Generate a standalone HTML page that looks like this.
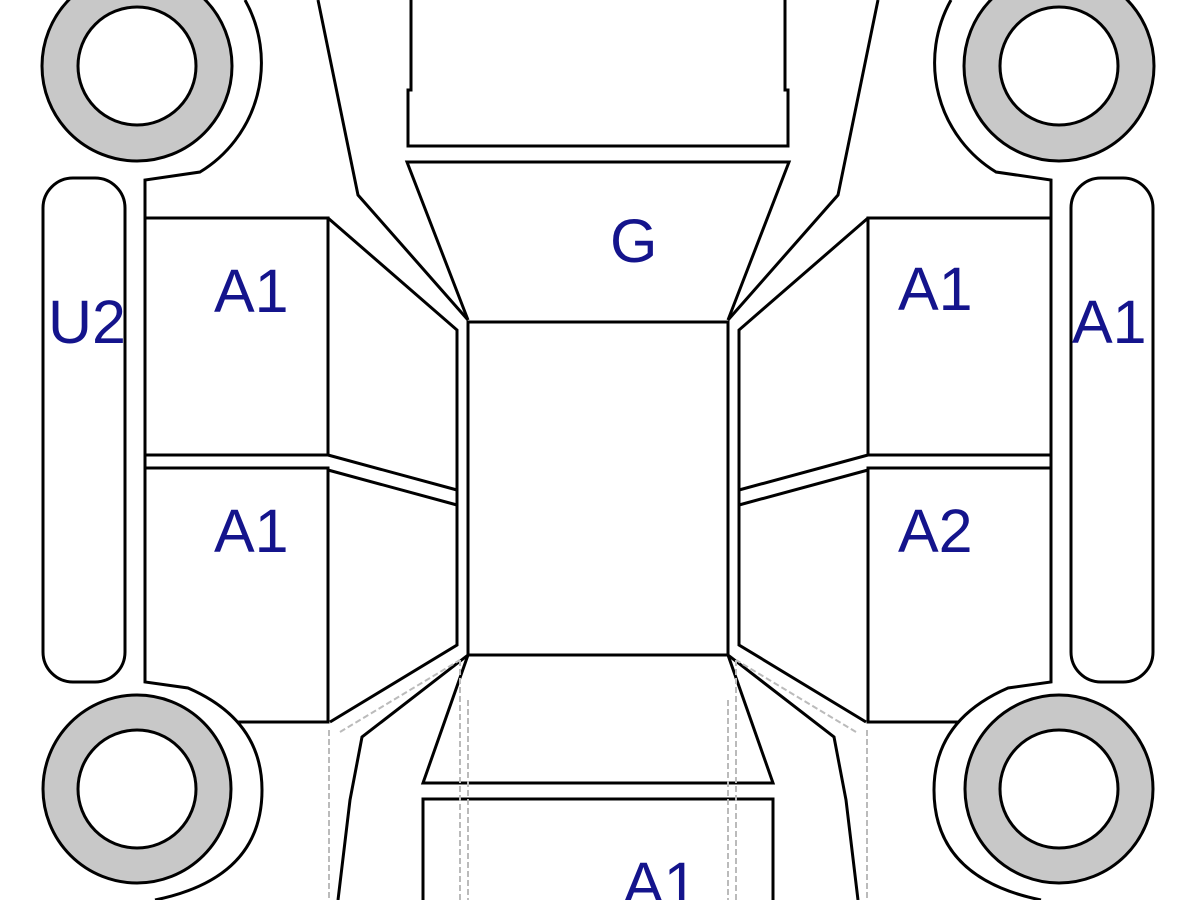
<!DOCTYPE html>
<html><head><meta charset="utf-8"><style>
html,body{margin:0;padding:0;background:#fff;}
svg{display:block}
text{font-family:"Liberation Sans",Arial,sans-serif;fill:#14148c;font-size:61px}
</style></head><body>
<svg width="1200" height="900" viewBox="0 0 1200 900" xmlns="http://www.w3.org/2000/svg">
<defs>
<g id="half" fill="none" stroke="#000" stroke-width="3">
  <circle cx="137" cy="66" r="95" fill="#c8c8c8"/>
  <circle cx="137" cy="66" r="59" fill="#fff"/>
  <circle cx="137" cy="789" r="94" fill="#c8c8c8"/>
  <circle cx="137" cy="789" r="59" fill="#fff"/>
  <path d="M245,0 A128,128 0 0 1 200,172 L145,180 L145,682 L188,688 Q262,720 262,790 Q262,878 155,900"/>
  <rect x="43" y="178" width="82" height="504" rx="30"/>
  <path d="M145,218 L328,218 L328,455 L145,455"/>
  <path d="M145,468 L328,468 L328,722 L238,722"/>
  <path d="M328,455 L457,490 M328,470 L457,505"/>
  <path d="M328,218 L457,330 L457,645 L330,722"/>
  <path d="M318,0 L358,195 L468,320"/>
  <path d="M468,655 L362,737 L350,800 L338,900"/>
  <path d="M411,0 L411,90 L408,90 L408,146 L598,146"/>
  <path d="M598,162 L407,162 L468,320"/>
  <path d="M468,655 L423,783 L598,783"/>
  <path d="M598,799 L423,799 L423,900"/>
  <path d="M329,730 L329,900 M460,660 L460,900 M468,700 L468,900 M340,732 L460,660" stroke="#bbb" stroke-width="2" stroke-dasharray="6,3"/>
</g>
</defs>
<rect width="1200" height="900" fill="#fff"/>
<use href="#half"/>
<use href="#half" transform="translate(1196,0) scale(-1,1)"/>
<rect x="468" y="322" width="260" height="333" fill="none" stroke="#000" stroke-width="3"/>
<text x="610" y="262">G</text>
<text x="214" y="312">A1</text>
<text x="48" y="343">U2</text>
<text x="214" y="552">A1</text>
<text x="898" y="310">A1</text>
<text x="1072" y="343">A1</text>
<text x="898" y="552">A2</text>
<text x="623" y="905">A1</text>
</svg>
</body></html>
